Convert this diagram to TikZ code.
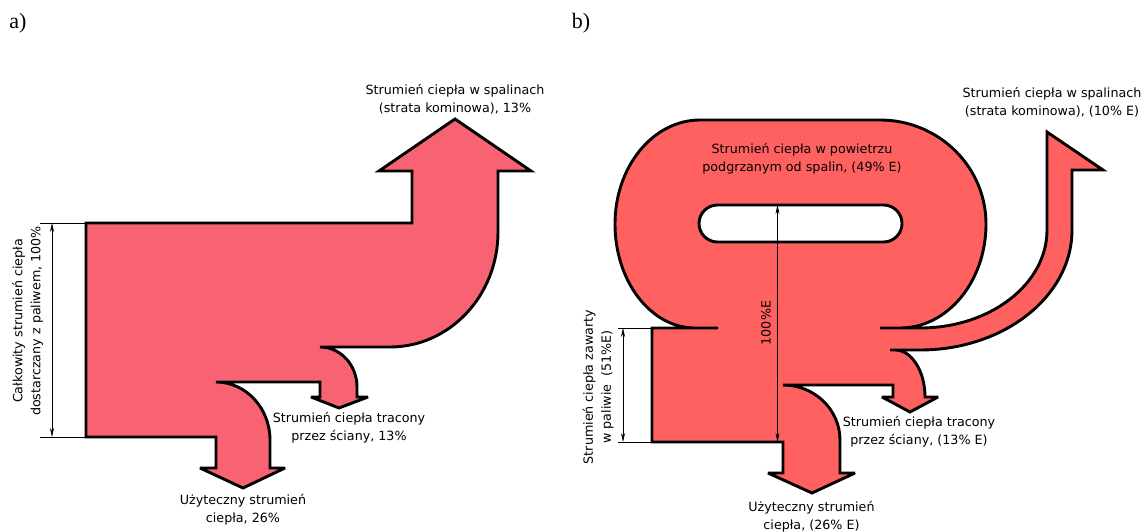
\documentclass[tikz,border=0pt]{standalone}
\usepackage{fontspec}
\setmainfont{DejaVu Sans}
\newfontfamily\labfont{Liberation Serif}
\usetikzlibrary{arrows.meta}
\definecolor{fillA}{RGB}{248,99,115}
\definecolor{fillB}{RGB}{255,97,97}
\begin{document}
\begin{tikzpicture}[x=1pt,y=1pt,
  flow/.style={draw=black, line width=2.9pt, miter limit=4},
  dimline/.style={draw=black, line width=0.6pt},
  dimarrow/.style={dimline, {Stealth[length=9pt,width=4pt]}-{Stealth[length=9pt,width=4pt]}},
  lab/.style={font=\fontsize{12.7}{18}\selectfont, align=center, inner sep=0pt},
  panel/.style={font=\labfont\fontsize{22}{24}\selectfont, inner sep=0pt}]
\useasboundingbox (0,0) rectangle (1147,531);

% ---------- a) ----------
\path[flow, fill=fillA] (86,308) -- (412,308) -- (412,360) -- (379,360) -- (455,412) -- (531,360) -- (498,360) -- (498,299)
  arc[start angle=0, end angle=-90, x radius=108, y radius=115] -- (320,184)
  arc[start angle=90, end angle=0, x radius=37, y radius=40] -- (357,134) -- (368,134) -- (339,123) -- (311,134) -- (320,134) -- (320,149) -- (216,149)
  arc[start angle=90, end angle=0, x radius=54, y radius=58] -- (270,63) -- (285,63) -- (243,43) -- (200,63) -- (216,63) -- (216,94) -- (86,94) -- cycle;

\coordinate (a1) at (40,308); \coordinate (a2) at (86,308);
\coordinate (a3) at (40,94);  \coordinate (a4) at (86,94);
\coordinate (a5) at (52,308); \coordinate (a6) at (52,94);
\draw[dimline] (a1) -- (a2);
\draw[dimline] (a3) -- (a4);
\draw[dimarrow] (a5) -- (a6);

\node[lab] (ta1) at (455,432) {Strumień ciepła w spalinach\\(strata kominowa), 13\%};
\node[lab] (ta2) at (349,103.5) {Strumień ciepła tracony\\przez ściany, 13\%};
\node[lab] (ta3) at (243,21) {Użyteczny strumień\\ciepła, 26\%};
\node[lab, rotate=90] (ta4) at (27.5,210) {Całkowity strumień ciepła\\dostarczany z paliwem, 100\%};
\node[panel] (la) at (18,508) {a)};

% ---------- b) ----------
\path[flow, fill=fillB] (652,203) -- (718,203) -- (695,203)
  arc[start angle=270, end angle=180, x radius=80, y radius=104]
  arc[start angle=180, end angle=90, x radius=85, y radius=104] -- (880,411)
  arc[start angle=90, end angle=0, x radius=106, y radius=104]
  arc[start angle=0, end angle=-90, x radius=86, y radius=104] -- (880,203) -- (920,203)
  arc[start angle=-90, end angle=0, x radius=127, y radius=98] -- (1047,399) -- (1103,361) -- (1072,361) -- (1072,301)
  arc[start angle=0, end angle=-90, x radius=152, y radius=120] -- (890,181) -- (895,181)
  arc[start angle=90, end angle=0, x radius=30, y radius=47] -- (938,134) -- (910,119) -- (882,134) -- (893,134) -- (893,146) -- (783,146)
  arc[start angle=90, end angle=0, x radius=57, y radius=55] -- (840,58) -- (855,58) -- (812,38) -- (768,58) -- (783,58) -- (783,89) -- (652,89) -- cycle;
\draw[flow, fill=white, rounded corners=18.5pt] (699,289) rectangle (902,326);

\coordinate (b1) at (618,203); \coordinate (b2) at (652,203);
\coordinate (b3) at (618,89);  \coordinate (b4) at (652,89);
\coordinate (b5) at (623,203); \coordinate (b6) at (623,89);
\draw[dimline] (b1) -- (b2);
\draw[dimline] (b3) -- (b4);
\draw[dimarrow] (b5) -- (b6);
\coordinate (c1) at (777.5,326); \coordinate (c2) at (777.5,89);
\draw[dimarrow] (c1) -- (c2);

\node[lab] (tb1) at (802,372) {Strumień ciepła w powietrzu\\podgrzanym od spalin, (49\% E)};
\node[lab] (tb2) at (1052,428.5) {Strumień ciepła w spalinach\\(strata kominowa), (10\% E)};
\node[lab] (tb3) at (919,99) {Strumień ciepła tracony\\przez ściany, (13\% E)};
\node[lab] (tb4) at (811.5,14.5) {Użyteczny strumień\\ciepła, (26\% E)};
\node[lab, rotate=90] (tb5) at (598,144) {Strumień ciepła zawarty\\w paliwie~ (51\%E)};
\node[lab, rotate=90] (tb6) at (766,208) {100\%E};
\node[panel] (lb) at (581,508) {b)};
\end{tikzpicture}
\end{document}
